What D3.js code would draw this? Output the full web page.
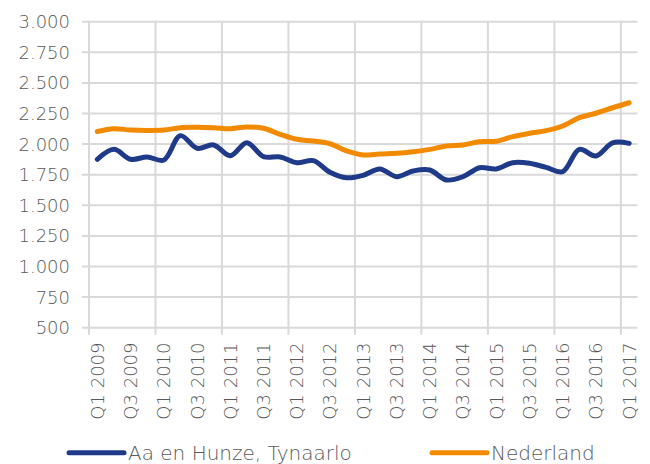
<!DOCTYPE html>
<html>
<head>
<meta charset="utf-8">
<script src="https://cdn.jsdelivr.net/npm/d3@7"></script>
<style>
  body { margin: 0; background: #fff; }
  text { font-family: "DejaVu Sans", sans-serif; font-weight: 300; fill: #595959; }
</style>
</head>
<body>
<div id="chart"></div>
<script>
// kwartalen Q1 2009 .. Q1 2017
var quarters = [];
for (var yr = 2009; yr <= 2017; yr++) {
  for (var q = 1; q <= 4; q++) {
    if (yr == 2017 && q > 1) break;
    quarters.push("Q" + q + " " + yr);
  }
}

var seriesNames = ["Aa en Hunze, Tynaarlo", "Nederland"];

var aaHunze = [1875, 1957, 1876, 1895, 1870, 2069, 1966, 1993, 1905, 2011, 1897,
               1895, 1848, 1865, 1770, 1725, 1745, 1797, 1734, 1780, 1788, 1707,
               1734, 1807, 1797, 1848, 1843, 1810, 1775, 1957, 1903, 2011, 2006];

var nederland = [2103, 2126, 2115, 2112, 2115, 2134, 2137, 2134, 2126, 2140, 2129,
                 2080, 2039, 2025, 2003, 1944, 1911, 1919, 1925, 1938, 1957, 1984,
                 1993, 2020, 2023, 2061, 2088, 2110, 2148, 2216, 2252, 2297, 2338];

var yTicks = [500, 750, 1000, 1250, 1500, 1750, 2000, 2250, 2500, 2750, 3000];

var colors = ["#203a8a", "#f28a00"];

var width = 650, height = 464;
var margin = {top: 21.7, left: 89, right: 12.5, bottom: 136.3};

var svg = d3.select("#chart").append("svg")
  .attr("width", width)
  .attr("height", height);

var x = d3.scaleBand()
  .domain(quarters)
  .range([margin.left, width - margin.right])
  .paddingInner(0).paddingOuter(0);

var y = d3.scaleLinear()
  .domain([500, 3000])
  .range([height - margin.bottom, margin.top]);

var fmt = function(v) { return d3.format(",")(v).replace(/,/g, "."); };

// horizontale rasterlijnen
svg.append("g")
  .selectAll("line")
  .data(yTicks)
  .enter().append("line")
    .attr("x1", margin.left - 7)
    .attr("x2", width - margin.right)
    .attr("y1", function(d) { return y(d); })
    .attr("y2", function(d) { return y(d); })
    .attr("stroke", "#d9d9d9")
    .attr("stroke-width", 2);

// verticale rasterlijnen, elke 4 kwartalen
var vq = quarters.filter(function(d, i) { return i % 4 == 0; });
svg.append("g")
  .selectAll("line")
  .data(vq)
  .enter().append("line")
    .attr("x1", function(d) { return x(d); })
    .attr("x2", function(d) { return x(d); })
    .attr("y1", margin.top - 1)
    .attr("y2", y(500) + 7)
    .attr("stroke", "#d9d9d9")
    .attr("stroke-width", 2);

// y labels
svg.append("g")
  .selectAll("text")
  .data(yTicks)
  .enter().append("text")
    .attr("x", 70)
    .attr("y", function(d) { return y(d); })
    .attr("dy", "0.36em")
    .attr("text-anchor", "end")
    .style("font-size", "18px")
    .text(fmt);

// x labels (elke 2 kwartalen)
svg.append("g")
  .selectAll("text")
  .data(quarters.filter(function(d, i) { return i % 2 == 0; }))
  .enter().append("text")
    .attr("transform", function(d) {
      return "translate(" + (x(d) + x.bandwidth() / 2) + "," + 342.5 + ") rotate(-90)";
    })
    .attr("dy", "0.36em")
    .attr("text-anchor", "end")
    .style("font-size", "18px")
    .text(function(d) { return d; });

var line = d3.line()
  .x(function(d, i) { return x(quarters[i]) + x.bandwidth() / 2; })
  .y(function(d) { return y(d); })
  .curve(d3.curveCatmullRom.alpha(0.5));

[aaHunze, nederland].forEach(function(s, k) {
  svg.append("path")
    .datum(s)
    .attr("d", line)
    .attr("fill", "none")
    .attr("stroke", colors[k])
    .attr("stroke-width", 5)
    .attr("stroke-linecap", "round")
    .attr("stroke-linejoin", "round");
});

// legenda
var legendX = [69, 432];
var legend = svg.append("g")
  .selectAll("g")
  .data(seriesNames)
  .enter().append("g")
    .attr("transform", function(d, i) { return "translate(" + legendX[i] + ",452.7)"; });

legend.append("line")
  .attr("x1", 0).attr("x2", 55)
  .attr("stroke", function(d, i) { return colors[i]; })
  .attr("stroke-width", 5)
  .attr("stroke-linecap", "round");

legend.append("text")
  .attr("x", 59)
  .attr("y", 7.5)
  .style("font-size", "20px")
  .text(function(d) { return d; });
</script>
</body>
</html>
